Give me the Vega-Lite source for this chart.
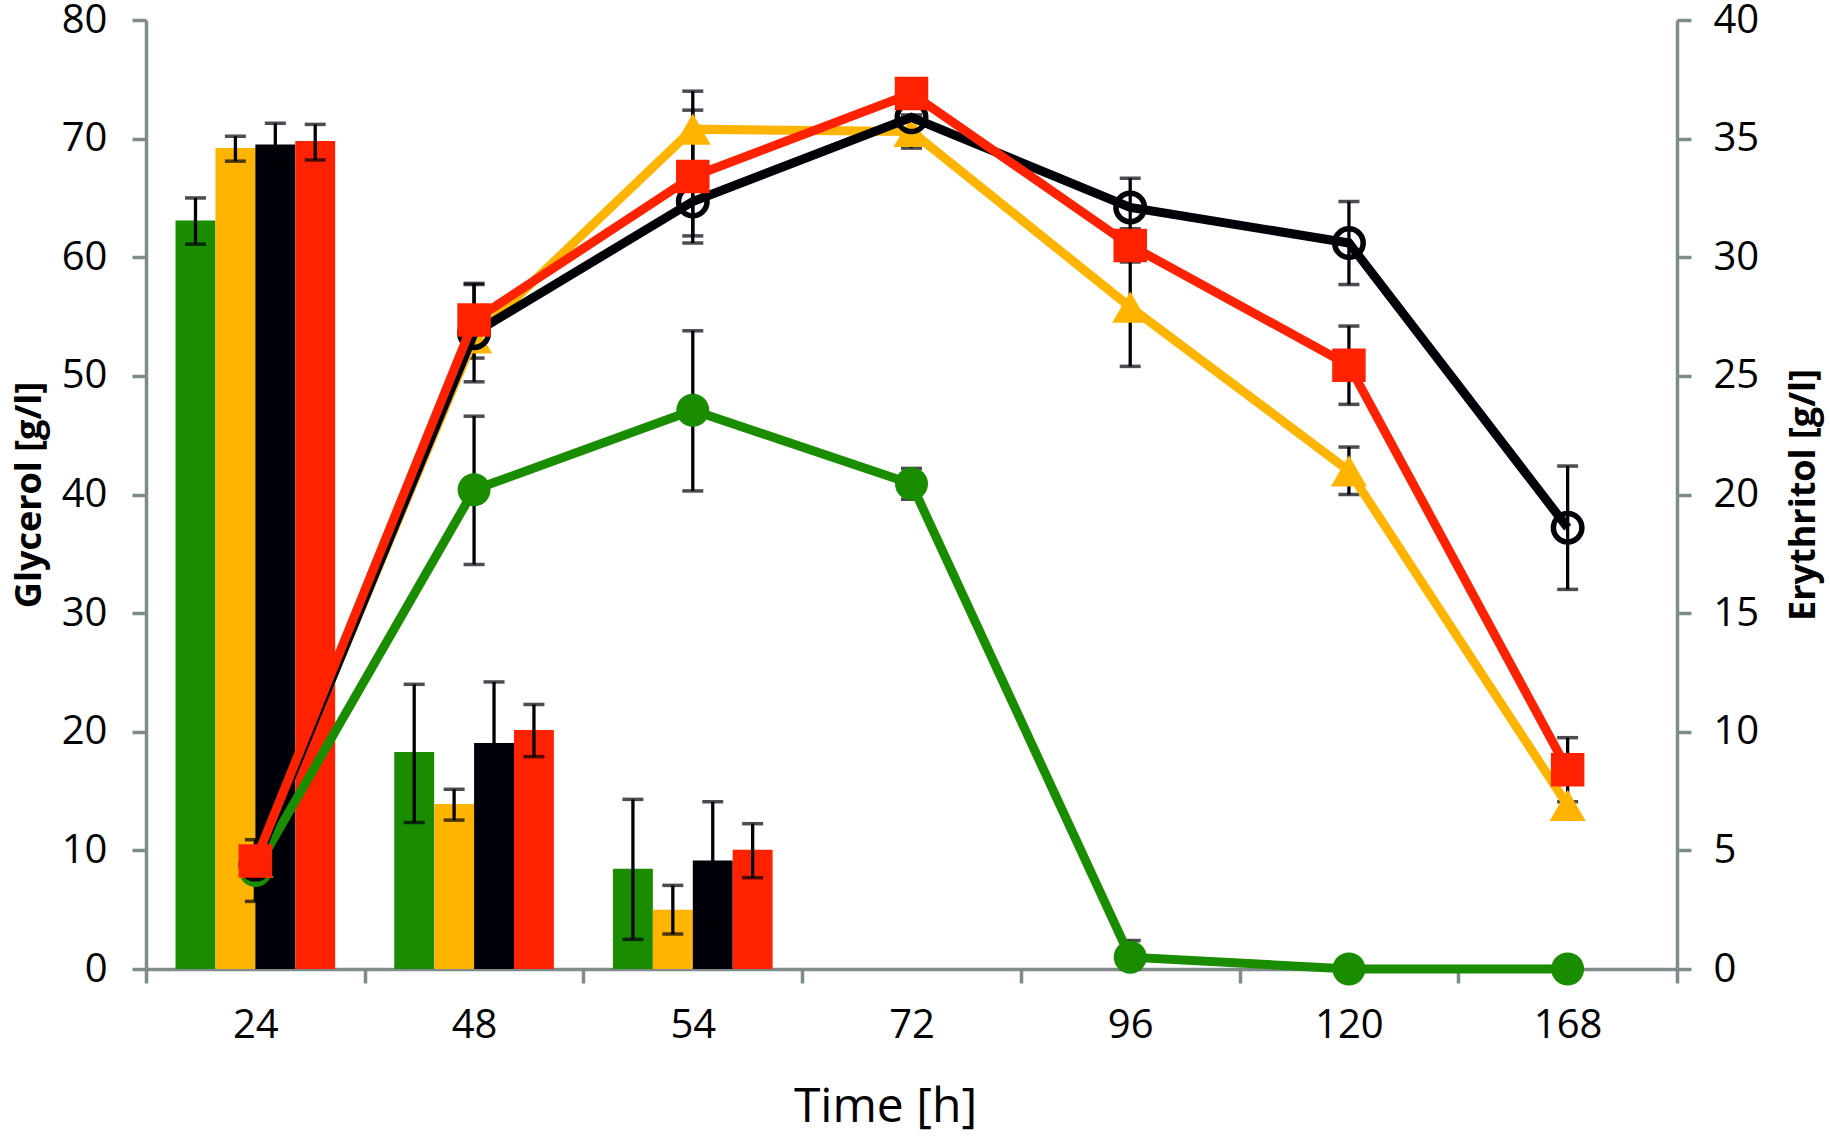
{
  "$schema": "https://vega.github.io/schema/vega-lite/v6.json",
  "width": 1531,
  "height": 949,
  "autosize": {"type": "none"},
  "padding": {"left": 146, "top": 20, "right": 153, "bottom": 173},
  "background": "white",
  "config": {
    "view": {"stroke": null},
    "font": "Open Sans",
    "axis": {
      "grid": false,
      "domainColor": "#7f8a8b",
      "domainWidth": 3.5,
      "tickColor": "#7f8a8b",
      "tickWidth": 3.5,
      "tickSize": 14,
      "labelFont": "Open Sans",
      "labelFontSize": 40,
      "labelColor": "#000000",
      "titleFont": "Open Sans",
      "titleColor": "#000000"
    },
    "axisLeft": {"labelPadding": 25, "titleFontSize": 36, "titleFontWeight": "bold", "titlePadding": 13},
    "axisRight": {"labelPadding": 22, "titleFontSize": 36, "titleFontWeight": "bold", "titleAngle": 270, "titleBaseline": "top", "titlePadding": 28}
  },
  "datasets": {
    "bars": [
      {"t": "24", "s": "g", "v": 63.1, "lo": 61.1, "hi": 65.0},
      {"t": "24", "s": "y", "v": 69.2, "lo": 68.1, "hi": 70.2},
      {"t": "24", "s": "b", "v": 69.5, "lo": 67.7, "hi": 71.3},
      {"t": "24", "s": "r", "v": 69.8, "lo": 68.2, "hi": 71.2},
      {"t": "48", "s": "g", "v": 18.3, "lo": 12.35, "hi": 24.0},
      {"t": "48", "s": "y", "v": 13.9, "lo": 12.55, "hi": 15.15},
      {"t": "48", "s": "b", "v": 19.05, "lo": 13.9, "hi": 24.2},
      {"t": "48", "s": "r", "v": 20.15, "lo": 17.9, "hi": 22.3},
      {"t": "54", "s": "g", "v": 8.45, "lo": 2.5, "hi": 14.3},
      {"t": "54", "s": "y", "v": 5.0, "lo": 2.95, "hi": 7.05},
      {"t": "54", "s": "b", "v": 9.15, "lo": 4.2, "hi": 14.1},
      {"t": "54", "s": "r", "v": 10.05, "lo": 7.7, "hi": 12.25}
    ],
    "lines": [
      {"t": "24", "s": "g", "v": 4.15, "lo": 2.85, "hi": 5.45},
      {"t": "48", "s": "g", "v": 20.2, "lo": 17.05, "hi": 23.3},
      {"t": "54", "s": "g", "v": 23.55, "lo": 20.15, "hi": 26.9},
      {"t": "72", "s": "g", "v": 20.45, "lo": 19.8, "hi": 21.1},
      {"t": "96", "s": "g", "v": 0.5, "lo": 0.0, "hi": 1.2},
      {"t": "120", "s": "g", "v": 0.0, "lo": null, "hi": null},
      {"t": "168", "s": "g", "v": 0.0, "lo": null, "hi": null},
      {"t": "24", "s": "y", "v": 4.5, "lo": null, "hi": null},
      {"t": "48", "s": "y", "v": 26.6, "lo": null, "hi": null},
      {"t": "54", "s": "y", "v": 35.4, "lo": 33.8, "hi": 37.0},
      {"t": "72", "s": "y", "v": 35.3, "lo": 34.6, "hi": 36.0},
      {"t": "96", "s": "y", "v": 27.9, "lo": 25.4, "hi": 30.4},
      {"t": "120", "s": "y", "v": 21.0, "lo": 20.0, "hi": 22.0},
      {"t": "168", "s": "y", "v": 6.9, "lo": null, "hi": null},
      {"t": "24", "s": "b", "v": 4.4, "lo": null, "hi": null},
      {"t": "48", "s": "b", "v": 26.8, "lo": 24.75, "hi": 28.85},
      {"t": "54", "s": "b", "v": 32.35, "lo": 30.9, "hi": 33.8},
      {"t": "72", "s": "b", "v": 35.9, "lo": null, "hi": null},
      {"t": "96", "s": "b", "v": 32.1, "lo": 30.9, "hi": 33.33},
      {"t": "120", "s": "b", "v": 30.6, "lo": 28.85, "hi": 32.35},
      {"t": "168", "s": "b", "v": 18.6, "lo": 16.0, "hi": 21.2},
      {"t": "24", "s": "r", "v": 4.55, "lo": null, "hi": null},
      {"t": "48", "s": "r", "v": 27.35, "lo": 25.75, "hi": 28.9},
      {"t": "54", "s": "r", "v": 33.4, "lo": 30.6, "hi": 36.2},
      {"t": "72", "s": "r", "v": 36.9, "lo": null, "hi": null},
      {"t": "96", "s": "r", "v": 30.5, "lo": 29.8, "hi": 31.2},
      {"t": "120", "s": "r", "v": 25.45, "lo": 23.8, "hi": 27.1},
      {"t": "168", "s": "r", "v": 8.4, "lo": 7.05, "hi": 9.75}
    ]
  },
  "layer": [
    {
      "data": {"name": "bars"},
      "encoding": {
        "x": {
          "field": "t", "type": "ordinal", "title": "Time [h]",
          "scale": {"type": "band", "domain": ["24", "48", "54", "72", "96", "120", "168"], "paddingInner": 0, "paddingOuter": 0},
          "axis": {"tickBand": "extent", "labelAngle": 0, "labelPadding": 22, "titleFontSize": 48, "titleFontWeight": "normal", "titlePadding": 38, "titleX": 739}
        },
        "xOffset": {"field": "s", "type": "nominal", "scale": {"domain": ["g", "y", "b", "r"], "paddingInner": 0, "paddingOuter": 0.74}}
      },
      "layer": [
        {
          "mark": {"type": "bar"},
          "encoding": {
            "y": {"field": "v", "type": "quantitative", "title": "Glycerol [g/l]", "scale": {"domain": [0, 80], "nice": false}, "axis": {"orient": "left", "values": [0, 10, 20, 30, 40, 50, 60, 70, 80]}},
            "color": {"field": "s", "type": "nominal", "legend": null,
              "scale": {"domain": ["g", "y", "b", "r"], "range": ["#1a8c00", "#ffb400", "#000008", "#ff2200"]}}
          }
        },
        {
          "mark": {"type": "rule", "color": "#000008", "strokeWidth": 3.3},
          "encoding": {
            "y": {"field": "lo", "type": "quantitative", "title": "Glycerol [g/l]", "scale": {"domain": [0, 80], "nice": false}, "axis": {"orient": "left", "values": [0, 10, 20, 30, 40, 50, 60, 70, 80]}},
            "y2": {"field": "hi"}
          }
        },
        {
          "mark": {"type": "tick", "orient": "horizontal", "color": "#000008", "size": 21, "thickness": 3.5},
          "encoding": {
            "y": {"field": "lo", "type": "quantitative", "title": "Glycerol [g/l]", "scale": {"domain": [0, 80], "nice": false}, "axis": {"orient": "left", "values": [0, 10, 20, 30, 40, 50, 60, 70, 80]}}
          }
        },
        {
          "mark": {"type": "tick", "orient": "horizontal", "color": "#000008", "size": 21, "thickness": 3.5},
          "encoding": {
            "y": {"field": "hi", "type": "quantitative", "title": "Glycerol [g/l]", "scale": {"domain": [0, 80], "nice": false}, "axis": {"orient": "left", "values": [0, 10, 20, 30, 40, 50, 60, 70, 80]}}
          }
        }
      ]
    },
    {
      "data": {"name": "lines"},
      "encoding": {
        "x": {
          "field": "t", "type": "ordinal", "title": "Time [h]", "bandPosition": 0.5,
          "scale": {"type": "band", "domain": ["24", "48", "54", "72", "96", "120", "168"], "paddingInner": 0, "paddingOuter": 0},
          "axis": {"tickBand": "extent", "labelAngle": 0, "labelPadding": 22, "titleFontSize": 48, "titleFontWeight": "normal", "titlePadding": 38, "titleX": 739}
        }
      },
      "layer": [
        {
          "transform": [{"filter": "isValid(datum.lo)"}],
          "mark": {"type": "rule", "color": "#000008", "strokeWidth": 3.3},
          "encoding": {
            "y": {"field": "lo", "type": "quantitative", "title": "Erythritol [g/l]", "scale": {"domain": [0, 40], "nice": false}, "axis": {"orient": "right", "values": [0, 5, 10, 15, 20, 25, 30, 35, 40]}},
            "y2": {"field": "hi"}
          }
        },
        {
          "transform": [{"filter": "isValid(datum.lo)"}],
          "mark": {"type": "tick", "orient": "horizontal", "color": "#000008", "size": 21, "thickness": 3.5},
          "encoding": {"y": {"field": "lo", "type": "quantitative", "title": "Erythritol [g/l]", "scale": {"domain": [0, 40], "nice": false}, "axis": {"orient": "right", "values": [0, 5, 10, 15, 20, 25, 30, 35, 40]}}}
        },
        {
          "transform": [{"filter": "isValid(datum.hi)"}],
          "mark": {"type": "tick", "orient": "horizontal", "color": "#000008", "size": 21, "thickness": 3.5},
          "encoding": {"y": {"field": "hi", "type": "quantitative", "title": "Erythritol [g/l]", "scale": {"domain": [0, 40], "nice": false}, "axis": {"orient": "right", "values": [0, 5, 10, 15, 20, 25, 30, 35, 40]}}}
        },
        {
          "transform": [{"filter": "datum.s == 'g'"}],
          "mark": {"type": "line", "color": "#1a8c00", "strokeWidth": 9},
          "encoding": {"y": {"field": "v", "type": "quantitative", "title": "Erythritol [g/l]", "scale": {"domain": [0, 40], "nice": false}, "axis": {"orient": "right", "values": [0, 5, 10, 15, 20, 25, 30, 35, 40]}}}
        },
        {
          "transform": [{"filter": "datum.s == 'g'"}],
          "mark": {"type": "point", "shape": "circle", "filled": true, "opacity": 1, "size": 1089, "color": "#1a8c00"},
          "encoding": {"y": {"field": "v", "type": "quantitative", "title": "Erythritol [g/l]", "scale": {"domain": [0, 40], "nice": false}, "axis": {"orient": "right", "values": [0, 5, 10, 15, 20, 25, 30, 35, 40]}}}
        },
        {
          "transform": [{"filter": "datum.s == 'y'"}],
          "mark": {"type": "line", "color": "#ffb400", "strokeWidth": 9},
          "encoding": {"y": {"field": "v", "type": "quantitative", "title": "Erythritol [g/l]", "scale": {"domain": [0, 40], "nice": false}, "axis": {"orient": "right", "values": [0, 5, 10, 15, 20, 25, 30, 35, 40]}}}
        },
        {
          "transform": [{"filter": "datum.s == 'y'"}],
          "mark": {"type": "point", "shape": "triangle-up", "filled": true, "opacity": 1, "size": 1300, "color": "#ffb400"},
          "encoding": {"y": {"field": "v", "type": "quantitative", "title": "Erythritol [g/l]", "scale": {"domain": [0, 40], "nice": false}, "axis": {"orient": "right", "values": [0, 5, 10, 15, 20, 25, 30, 35, 40]}}}
        },
        {
          "transform": [{"filter": "datum.s == 'b'"}],
          "mark": {"type": "line", "color": "#000008", "strokeWidth": 9},
          "encoding": {"y": {"field": "v", "type": "quantitative", "title": "Erythritol [g/l]", "scale": {"domain": [0, 40], "nice": false}, "axis": {"orient": "right", "values": [0, 5, 10, 15, 20, 25, 30, 35, 40]}}}
        },
        {
          "transform": [{"filter": "datum.s == 'b'"}],
          "mark": {"type": "point", "shape": "circle", "filled": false, "opacity": 1, "size": 812, "strokeWidth": 5.5, "color": "#000008"},
          "encoding": {"y": {"field": "v", "type": "quantitative", "title": "Erythritol [g/l]", "scale": {"domain": [0, 40], "nice": false}, "axis": {"orient": "right", "values": [0, 5, 10, 15, 20, 25, 30, 35, 40]}}}
        },
        {
          "transform": [{"filter": "datum.s == 'r'"}],
          "mark": {"type": "line", "color": "#ff2200", "strokeWidth": 9},
          "encoding": {"y": {"field": "v", "type": "quantitative", "title": "Erythritol [g/l]", "scale": {"domain": [0, 40], "nice": false}, "axis": {"orient": "right", "values": [0, 5, 10, 15, 20, 25, 30, 35, 40]}}}
        },
        {
          "transform": [{"filter": "datum.s == 'r'"}],
          "mark": {"type": "point", "shape": "square", "filled": true, "opacity": 1, "size": 1122, "color": "#ff2200"},
          "encoding": {"y": {"field": "v", "type": "quantitative", "title": "Erythritol [g/l]", "scale": {"domain": [0, 40], "nice": false}, "axis": {"orient": "right", "values": [0, 5, 10, 15, 20, 25, 30, 35, 40]}}}
        }
      ]
    }
  ],
  "resolve": {"scale": {"y": "independent"}}
}
